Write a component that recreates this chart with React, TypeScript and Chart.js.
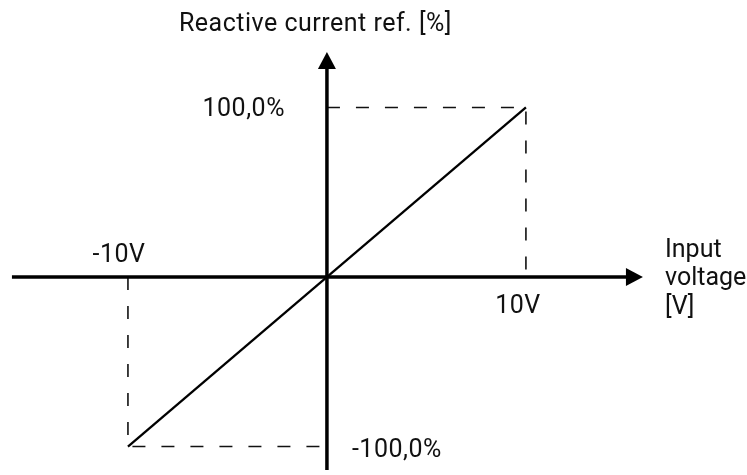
import React, { useEffect, useRef } from "react";
import { Chart, registerables } from "chart.js";

Chart.register(...registerables);

// ---- data ----
const inputVoltage = [-10, 10];
const currentRef = [-100, 100];
const upperGuideX = [0, 10, 10];
const upperGuideY = [100, 100, 0];
const lowerGuideX = [-10, -10, 0];
const lowerGuideY = [0, -100, -100];
const yTickLabels = ["100,0%", "-100,0%"];
const xTickLabels = ["-10V", "10V"];
const yAxisTitle = "Reactive current ref. [%]";
const xAxisTitle = ["Input", "voltage", "[V]"];

// ---- view window (value space) ----
const X_MIN = -16.43;
const X_MAX = 21.11;
const Y_MIN = -116.8;
const Y_MAX = 163.4;
const X_AXIS_FROM = -15.83;
const X_AXIS_TO = 15.88;
const Y_AXIS_TOP = 132.7;
const Y_AXIS_BOTTOM = -113.9;

const FONT = "25px Roboto";

const diagramPlugin = {
  id: "diagram",
  afterDatasetsDraw(chart: any) {
    const { ctx } = chart;
    const xs = chart.scales.x;
    const ys = chart.scales.y;
    const ox = xs.getPixelForValue(0);
    const oy = ys.getPixelForValue(0);
    const arrowLen = 17;
    const arrowHalf = 9;
    ctx.save();
    ctx.strokeStyle = "#000";
    ctx.fillStyle = "#000";
    ctx.lineWidth = 3.5;
    ctx.lineCap = "butt";
    // x axis
    const xl = xs.getPixelForValue(X_AXIS_FROM);
    const xr = xs.getPixelForValue(X_AXIS_TO);
    ctx.beginPath();
    ctx.moveTo(xl, oy);
    ctx.lineTo(xr - arrowLen + 1, oy);
    ctx.stroke();
    ctx.beginPath();
    ctx.moveTo(xr, oy);
    ctx.lineTo(xr - arrowLen, oy - arrowHalf);
    ctx.lineTo(xr - arrowLen, oy + arrowHalf);
    ctx.closePath();
    ctx.fill();
    // y axis
    const yt = ys.getPixelForValue(Y_AXIS_TOP);
    const yb = ys.getPixelForValue(Y_AXIS_BOTTOM);
    ctx.beginPath();
    ctx.moveTo(ox, yb);
    ctx.lineTo(ox, yt + arrowLen - 1);
    ctx.stroke();
    ctx.beginPath();
    ctx.moveTo(ox, yt);
    ctx.lineTo(ox - arrowHalf, yt + arrowLen);
    ctx.lineTo(ox + arrowHalf, yt + arrowLen);
    ctx.closePath();
    ctx.fill();

    // texts
    ctx.font = FONT;
    try {
      ctx.letterSpacing = "0.5px";
    } catch (e) {}
    ctx.textBaseline = "alphabetic";
    ctx.fillStyle = "#111";
    ctx.textAlign = "center";
    ctx.fillText(yAxisTitle, ox - 11.5, 31);

    ctx.textAlign = "right";
    ctx.fillText(yTickLabels[0], ox - 42, ys.getPixelForValue(100) + 8.5);
    ctx.textAlign = "left";
    ctx.fillText(yTickLabels[1], ox + 25, ys.getPixelForValue(-100) + 10.5);

    ctx.textAlign = "center";
    ctx.fillText(xTickLabels[0], xs.getPixelForValue(-10) - 9, oy - 15);
    ctx.fillText(xTickLabels[1], xs.getPixelForValue(10) - 8, oy + 36);

    try {
      ctx.letterSpacing = "0px";
    } catch (e) {}
    ctx.textAlign = "left";
    xAxisTitle.forEach((t, i) => {
      ctx.fillText(t, 665, oy - 20 + i * 28.5);
    });
    ctx.restore();
  },
};

export default function App() {
  const ref = useRef<HTMLCanvasElement | null>(null);
  useEffect(() => {
    if (!ref.current) return;
    const pts = (xa: number[], ya: number[]) => xa.map((v, i) => ({ x: v, y: ya[i] }));
    const chart = new Chart(ref.current, {
      type: "scatter",
      data: {
        datasets: [
          {
            label: "upper guide",
            data: pts(upperGuideX, upperGuideY),
            showLine: true,
            borderColor: "#111",
            borderWidth: 1.6,
            borderDash: [13, 16],
            pointRadius: 0,
            fill: false,
          },
          {
            label: "lower guide",
            data: pts(lowerGuideX, lowerGuideY),
            showLine: true,
            borderColor: "#111",
            borderWidth: 1.6,
            borderDash: [13, 16],
            pointRadius: 0,
            fill: false,
          },
          {
            label: "reference",
            data: pts(inputVoltage, currentRef),
            showLine: true,
            borderColor: "#000",
            borderWidth: 2.3,
            pointRadius: 0,
            fill: false,
          },
        ],
      },
      options: {
        responsive: false,
        animation: false,
        layout: { padding: 0 },
        plugins: { legend: { display: false }, tooltip: { enabled: false } },
        scales: {
          x: { type: "linear", min: X_MIN, max: X_MAX, display: false },
          y: { type: "linear", min: Y_MIN, max: Y_MAX, display: false },
        },
      },
      plugins: [diagramPlugin],
    });
    return () => chart.destroy();
  }, []);
  return (
    <div style={{ position: "fixed", left: 0, top: 0, width: 747, height: 475, background: "#fff" }}>
      <canvas ref={ref} width={747} height={475} style={{ display: "block" }} />
    </div>
  );
}
